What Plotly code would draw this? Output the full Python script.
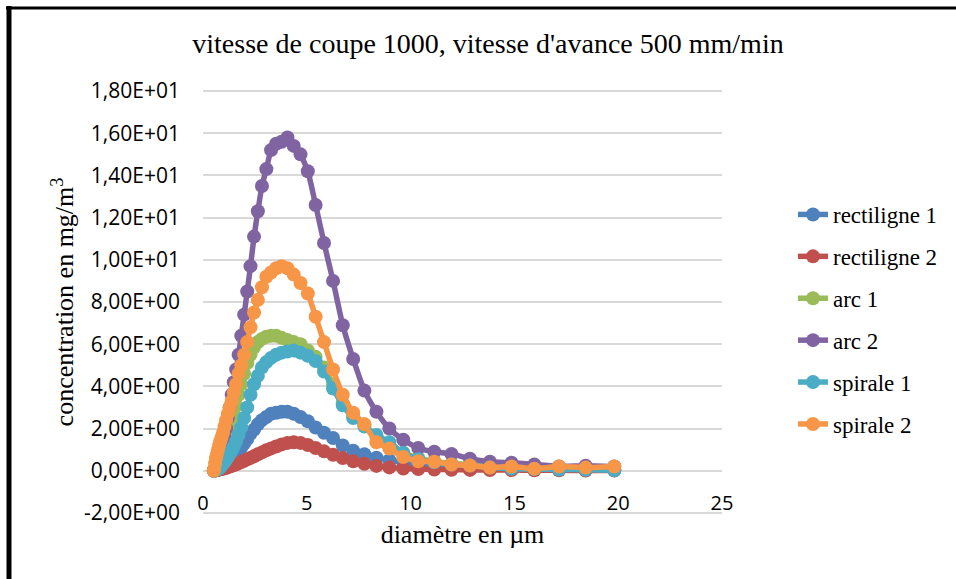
import plotly.graph_objects as go

# particle diameter channels (µm)
diam = [0.523, 0.542, 0.583, 0.626, 0.673, 0.723, 0.777, 0.835, 0.898, 0.965,
        1.037, 1.114, 1.197, 1.286, 1.382, 1.486, 1.596, 1.715, 1.843, 1.981,
        2.129, 2.288, 2.458, 2.642, 2.839, 3.051, 3.278, 3.523, 3.786, 4.068,
        4.371, 4.698, 5.048, 5.425, 5.829, 6.264, 6.732, 7.234, 7.774, 8.354,
        8.977, 9.647, 10.37, 11.14, 11.97, 12.86, 13.82, 14.86, 15.96, 17.15,
        18.43, 19.81]

rectiligne_1 = [0, 0.01, 0.02, 0.03, 0.04, 0.06, 0.08, 0.1, 0.13, 0.17,
                0.21, 0.26, 0.32, 0.4, 0.5, 0.62, 0.76, 0.92, 1.1, 1.3,
                1.5, 1.75, 1.95, 2.2, 2.4, 2.55, 2.7, 2.75, 2.8, 2.8,
                2.7, 2.55, 2.35, 2.05, 1.8, 1.55, 1.2, 0.95, 0.78, 0.62,
                0.5, 0.4, 0.3, 0.24, 0.2, 0.15, 0.12, 0.1, 0.08, 0.06,
                0.05, 0.04]
rectiligne_2 = [0, 0.01, 0.02, 0.03, 0.04, 0.05, 0.06, 0.07, 0.09, 0.1,
                0.12, 0.14, 0.17, 0.2, 0.23, 0.27, 0.31, 0.36, 0.41, 0.47,
                0.54, 0.61, 0.69, 0.78, 0.87, 0.97, 1.06, 1.15, 1.25, 1.32,
                1.35, 1.32, 1.22, 1.08, 0.92, 0.76, 0.6, 0.45, 0.33, 0.23,
                0.16, 0.11, 0.08, 0.06, 0.05, 0.04, 0.03, 0.03, 0.02, 0.02,
                0.01, 0.01]
arc_1 = [0, 0.02, 0.05, 0.1, 0.15, 0.25, 0.35, 0.5, 0.65, 0.85,
         1.05, 1.3, 1.6, 1.9, 2.3, 2.7, 3.1, 3.6, 4.1, 4.6,
         5.1, 5.5, 5.85, 6.1, 6.25, 6.35, 6.4, 6.4, 6.3, 6.2,
         6.1, 6.0, 5.7, 5.4, 4.9, 4.1, 3.2, 2.6, 2.2, 1.6,
         1.2, 0.85, 0.6, 0.45, 0.35, 0.3, 0.2, 0.15, 0.12, 0.1,
         0.08, 0.05]
arc_2 = [0.02, 0.03, 0.07, 0.12, 0.2, 0.35, 0.5, 0.7, 0.95, 1.25,
         1.6, 2.0, 2.5, 3.0, 3.6, 4.2, 4.8, 5.5, 6.4, 7.4,
         8.5, 9.7, 11.1, 12.3, 13.5, 14.3, 15.2, 15.5, 15.6, 15.8,
         15.4, 15.0, 14.2, 12.6, 10.8, 9.0, 6.9, 5.3, 3.8, 2.8,
         2.0, 1.47, 1.08, 0.9, 0.8, 0.57, 0.43, 0.38, 0.3, 0.2,
         0.24, 0.2]
spirale_1 = [0, 0.01, 0.02, 0.04, 0.06, 0.08, 0.12, 0.18, 0.25, 0.33,
             0.42, 0.52, 0.65, 0.8, 0.95, 1.15, 1.4, 1.7, 2.05, 2.5,
             3.0, 3.6, 4.1, 4.5, 4.9, 5.15, 5.35, 5.5, 5.6, 5.65,
             5.7, 5.6, 5.45, 5.2, 4.7, 3.9, 3.1, 2.5, 2.1, 1.7,
             1.35, 0.85, 0.55, 0.4, 0.3, 0.25, 0.15, 0.1, 0.08, 0.06,
             0.05, 0.02]
spirale_2 = [0, 0.1, 0.35, 0.6, 0.8, 1.0, 1.2, 1.4, 1.6, 1.8,
             2.1, 2.4, 2.7, 3.0, 3.3, 3.7, 4.1, 4.6, 5.0, 5.5,
             6.1, 6.8, 7.5, 8.1, 8.7, 9.2, 9.4, 9.6, 9.7, 9.6,
             9.3, 8.9, 8.4, 7.3, 6.1, 4.8, 3.6, 2.75, 2.2, 1.35,
             1.05, 0.65, 0.45, 0.43, 0.3, 0.25, 0.15, 0.2, 0.1, 0.2,
             0.15, 0.2]

names = ['rectiligne 1', 'rectiligne 2', 'arc 1', 'arc 2', 'spirale 1', 'spirale 2']
series = [rectiligne_1, rectiligne_2, arc_1, arc_2, spirale_1, spirale_2]
colors = ['#4F81BD', '#C0504D', '#9BBB59', '#8064A2', '#4BACC6', '#F79646']

y_ticks = [-2, 0, 2, 4, 6, 8, 10, 12, 14, 16, 18]
y_labels = ['-2,00E+00', '0,00E+00', '2,00E+00', '4,00E+00', '6,00E+00', '8,00E+00',
            '1,00E+01', '1,20E+01', '1,40E+01', '1,60E+01', '1,80E+01']
x_ticks = [0, 5, 10, 15, 20, 25]

serif = 'Liberation Serif, Times New Roman, serif'
sans = 'Open Sans, sans-serif'

# plot area in pixels: x 203..722, y 91 (18) .. 513 (-2)
L, R, T, B = 203, 722, 90, 514
W, H = R - L, B - T

fig = go.Figure()
for name, vals, c in zip(names, series, colors):
    fig.add_trace(go.Scatter(x=diam, y=vals, name=name, mode='lines+markers', legendgroup=name,
                             line=dict(color=c, width=5.5, shape='spline', smoothing=0.5),
                             marker=dict(color=c, size=14)))

fig.update_layout(
    width=956, height=579,
    margin=dict(l=L, r=956 - R, t=T, b=579 - B, autoexpand=False),
    paper_bgcolor='white', plot_bgcolor='white',
    title=dict(text="vitesse de coupe 1000, vitesse d'avance 500 mm/min", x=488 / 956, xref='container',
               xanchor='center', y=1 - 43 / 579, yref='container', yanchor='middle',
               font=dict(family=serif, size=28, color='black')),
    legend=dict(x=(793 - L) / W, xanchor='left', y=(B - 193) / H, yanchor='top',
                font=dict(family=serif, size=23, color='black'), tracegroupgap=9, bgcolor='rgba(0,0,0,0)'),
    showlegend=True,
)
fig.update_xaxes(range=[0, 25], tickvals=x_ticks, showgrid=False, zeroline=False, showline=False,
                 anchor='free', position=(B - 489) / H,
                 tickfont=dict(family=sans, size=20, color='black'),
                 title=dict(text='diamètre en µm', font=dict(family=serif, size=26, color='black'), standoff=9))
fig.update_yaxes(range=[-2.05, 18.05], tickvals=y_ticks, ticktext=y_labels, showgrid=True, gridcolor='#D9D9D9',
                 gridwidth=1.5, zeroline=False, showline=False, ticklabelstandoff=22,
                 tickfont=dict(family=sans, size=21, color='black'),
                 title=dict(text='concentration en mg/m<sup>3</sup>', font=dict(family=serif, size=26, color='black'),
                            standoff=2))

# black frame on the left and top of the picture
fig.add_shape(type='line', xref='paper', yref='paper', x0=(9 - L) / W, x1=(9 - L) / W,
              y0=(B - 6) / H, y1=(B - 585) / H, line=dict(color='black', width=5))
fig.add_shape(type='line', xref='paper', yref='paper', x0=(6 - L) / W, x1=(960 - L) / W,
              y0=(B - 8) / H, y1=(B - 8) / H, line=dict(color='black', width=3))

fig.write_html('out.html', config={'displayModeBar': False},
               post_script="document.body.style.margin='0';")
